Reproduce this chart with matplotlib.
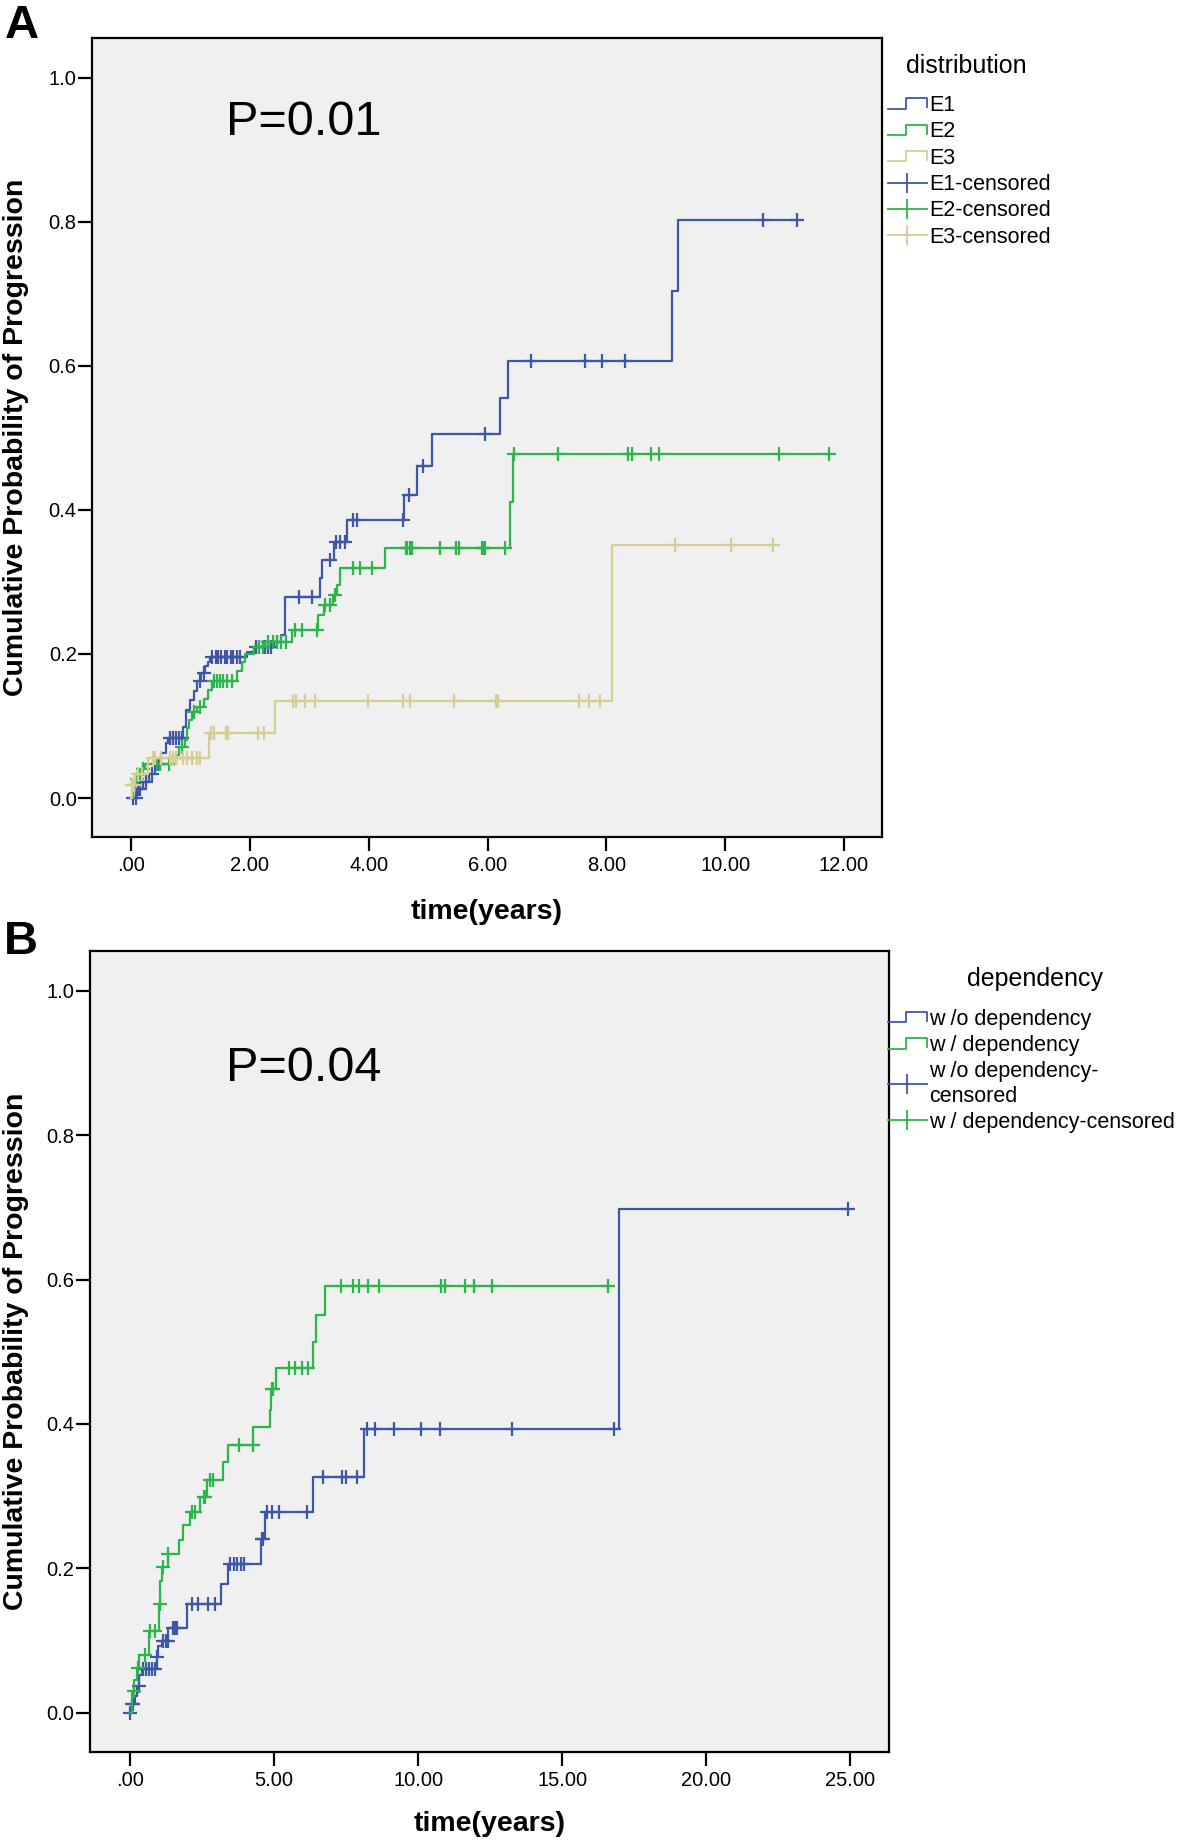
import numpy as np
import matplotlib.pyplot as plt
from matplotlib.lines import Line2D
from matplotlib.legend_handler import HandlerBase

plt.rcParams['font.family'] = ['Liberation Sans', 'DejaVu Sans']

blue = '#3D56A8'
green = '#2CB54A'
tan = '#D5CD93'
bg = '#F0F0F0'

# ---- panel A : distribution ----
e1_t = [0.10, 0.20, 0.30, 0.40, 0.50, 0.58, 0.62, 0.88, 0.92, 0.99, 1.05, 1.11, 1.17, 1.25, 1.29, 1.33,
        1.95, 2.06, 2.40, 2.52, 2.59, 3.18, 3.21, 3.41, 3.63, 4.60, 4.82, 5.07, 6.21, 6.35, 9.11, 9.20]
e1_p = [0.013, 0.022, 0.034, 0.048, 0.062, 0.076, 0.083, 0.099, 0.122, 0.136, 0.148, 0.162, 0.173, 0.183, 0.189, 0.196,
        0.203, 0.210, 0.217, 0.226, 0.279, 0.305, 0.330, 0.356, 0.386, 0.421, 0.461, 0.506, 0.556, 0.606, 0.704, 0.803]
e1_c = [0.03, 0.08, 0.12, 0.15, 0.25, 0.35, 0.45, 0.66, 0.70, 0.76, 0.80, 0.85, 1.15, 1.22, 1.36, 1.42, 1.46,
        1.52, 1.58, 1.62, 1.68, 1.72, 1.78, 1.84, 2.10, 2.15, 2.25, 2.30, 2.36, 2.45, 2.82, 3.04, 3.35, 3.44,
        3.52, 3.60, 3.74, 3.80, 4.58, 4.67, 4.92, 5.96, 6.73, 7.64, 7.92, 8.32, 10.63, 11.21]

e2_t = [0.03, 0.07, 0.15, 0.24, 0.76, 0.80, 0.91, 0.94, 0.98, 1.02, 1.10, 1.22, 1.30, 1.36, 1.78, 1.86, 1.92,
        2.06, 2.25, 2.70, 3.15, 3.24, 3.40, 3.46, 3.52, 4.28, 6.37, 6.43]
e2_p = [0.013, 0.027, 0.040, 0.048, 0.060, 0.071, 0.080, 0.097, 0.108, 0.120, 0.127, 0.138, 0.150, 0.162, 0.176,
        0.189, 0.200, 0.210, 0.217, 0.233, 0.254, 0.268, 0.282, 0.296, 0.319, 0.347, 0.411, 0.478]
e2_c = [0.10, 0.20, 0.43, 0.49, 0.63, 0.85, 1.05, 1.15, 1.39, 1.45, 1.50, 1.55, 1.62, 1.70, 2.15, 2.22, 2.30,
        2.38, 2.45, 2.52, 2.60, 2.76, 2.88, 3.12, 3.27, 3.35, 3.43, 3.74, 3.86, 4.05, 4.62, 4.65, 4.69, 4.72,
        5.20, 5.47, 5.52, 5.90, 5.93, 5.96, 6.30, 6.45, 7.18, 8.37, 8.43, 8.75, 8.89, 10.91, 11.75]

e3_t = [0.01, 0.07, 0.29, 1.31, 2.42, 8.10]
e3_p = [0.018, 0.034, 0.056, 0.090, 0.135, 0.351]
e3_c = [0.02, 0.05, 0.12, 0.18, 0.37, 0.40, 0.50, 0.66, 0.71, 0.76, 0.88, 0.94, 1.02, 1.11, 1.16, 1.34, 1.39,
        1.60, 1.63, 2.13, 2.23, 2.72, 2.78, 2.93, 3.09, 3.98, 4.58, 4.70, 5.43, 6.14, 6.17, 7.54, 7.70, 7.90,
        9.15, 10.10, 10.80]

# ---- panel B : dependency ----
wo_t = [0.05, 0.17, 0.25, 0.32, 0.40, 0.93, 0.98, 1.10, 1.33, 1.97, 3.16, 3.41, 4.55, 4.69, 6.34, 8.12, 16.96]
wo_p = [0.012, 0.023, 0.037, 0.053, 0.061, 0.077, 0.092, 0.100, 0.118, 0.150, 0.178, 0.206, 0.240, 0.278,
        0.326, 0.393, 0.697]
wo_c = [0.0, 0.05, 0.10, 0.30, 0.45, 0.55, 0.65, 0.75, 0.87, 0.93, 1.15, 1.25, 1.30, 1.48, 1.56, 1.64, 2.14,
        2.37, 2.72, 2.95, 3.47, 3.60, 3.72, 3.84, 3.96, 4.57, 4.63, 4.75, 4.92, 5.18, 6.13, 6.71, 7.37, 7.50,
        7.87, 8.22, 8.51, 9.17, 10.10, 10.76, 13.27, 16.81, 24.92]

w_t = [0.06, 0.15, 0.23, 0.32, 0.67, 1.00, 1.05, 1.10, 1.33, 1.68, 1.85, 2.08, 2.43, 2.68, 3.24, 3.39, 4.28,
       4.84, 4.89, 5.06, 6.36, 6.45, 6.76]
w_p = [0.030, 0.046, 0.062, 0.080, 0.113, 0.150, 0.183, 0.202, 0.220, 0.239, 0.260, 0.278, 0.299, 0.322,
       0.347, 0.371, 0.396, 0.420, 0.448, 0.478, 0.514, 0.551, 0.591]
w_c = [0.12, 0.29, 0.52, 0.69, 0.87, 1.04, 1.15, 1.33, 2.14, 2.26, 2.55, 2.60, 2.78, 2.89, 3.78, 4.26, 4.92,
       4.95, 5.50, 5.73, 5.96, 6.19, 7.33, 7.74, 7.94, 8.26, 8.64, 10.80, 10.93, 11.62, 11.94, 12.56, 16.59]


class StepHandler(HandlerBase):
    def create_artists(self, legend, orig_handle, xdescent, ydescent, width, height, fontsize, trans):
        x0, y0 = -xdescent, -ydescent
        xs = [x0, x0 + 0.45 * width, x0 + 0.45 * width, x0 + width, x0 + width]
        ys = [y0 + 0.15 * height, y0 + 0.15 * height, y0 + 0.85 * height, y0 + 0.85 * height, y0 + 0.25 * height]
        return [Line2D(xs, ys, color=orig_handle.get_color(), lw=1.3, transform=trans)]


def km(ax, t, p, cens, color):
    tt = np.r_[0, t, max(cens[-1], t[-1])]
    pp = np.r_[0, p, p[-1]]
    ax.step(tt, pp, where='post', color=color, lw=1.6)
    idx = np.searchsorted(tt, cens, side='right') - 1
    ax.plot(cens, pp[idx], ls='none', marker='+', ms=10, mew=1.6, color=color)


def style(ax, xt, xl, xlim):
    ax.set_facecolor(bg)
    for s in ax.spines.values():
        s.set_linewidth(1.6)
    ax.set_xlim(*xlim)
    ax.set_ylim(-0.054, 1.055)
    ax.set_xticks(xt)
    ax.set_xticklabels(xl)
    ax.set_yticks([0, 0.2, 0.4, 0.6, 0.8, 1.0])
    ax.set_yticklabels(['0.0', '0.2', '0.4', '0.6', '0.8', '1.0'])
    ax.tick_params(direction='out', length=10, width=1.6, labelsize=14.5, pad=1)
    ax.tick_params(axis='x', pad=4)
    ax.set_xlabel('time(years)', fontsize=20.5, fontweight='bold')
    ax.set_ylabel('Cumulative Probability of Progression', fontsize=20.5, fontweight='bold')


fig = plt.figure(figsize=(11.81, 18.44), dpi=100)
axA = fig.add_axes([0.0779, 0.5461, 0.6689, 0.4333])
axB = fig.add_axes([0.0758, 0.0500, 0.6770, 0.4343])

km(axA, e1_t, e1_p, e1_c, blue)
km(axA, e2_t, e2_p, e2_c, green)
km(axA, e3_t, e3_p, e3_c, tan)
style(axA, [0, 2, 4, 6, 8, 10, 12], ['.00', '2.00', '4.00', '6.00', '8.00', '10.00', '12.00'], (-0.66, 12.64))
axA.xaxis.set_label_coords(0.5, -0.077)
axA.yaxis.set_label_coords(-0.08, 0.5)
axA.text(0.17, 0.894, 'P=0.01', transform=axA.transAxes, fontsize=35, va='center')

km(axB, wo_t, wo_p, wo_c, blue)
km(axB, w_t, w_p, w_c, green)
style(axB, [0, 5, 10, 15, 20, 25], ['.00', '5.00', '10.00', '15.00', '20.00', '25.00'], (-1.41, 26.35))
axB.xaxis.set_label_coords(0.5, -0.074)
axB.yaxis.set_label_coords(-0.076, 0.5)
axB.text(0.171, 0.853, 'P=0.04', transform=axB.transAxes, fontsize=35, va='center')

# legends (titles drawn separately so the gap to the entries can match)
leg_kw = dict(loc='upper left', bbox_transform=fig.transFigure, frameon=False, borderpad=0,
              borderaxespad=0, fontsize=15.5, numpoints=1, handlelength=1.8,
              handletextpad=0.1, labelspacing=0.25)

sA = [Line2D([], [], color=c) for c in (blue, green, tan)]
cA = [Line2D([], [], color=c, marker='|', ms=14, mew=1.3, lw=1.3) for c in (blue, green, tan)]
axA.legend(sA + cA, ['E1', 'E2', 'E3', 'E1-censored', 'E2-censored', 'E3-censored'],
           bbox_to_anchor=(0.752, 0.9485),
           handler_map={h: StepHandler() for h in sA}, **leg_kw)
fig.text(906 / 1181, 1 - 66 / 1844, 'distribution', fontsize=18, ha='left', va='center')

sB = [Line2D([], [], color=c) for c in (blue, green)]
cB = [Line2D([], [], color=c, marker='|', ms=14, mew=1.3, lw=1.3) for c in (blue, green)]
axB.legend(sB + cB, ['w /o dependency', 'w / dependency', 'w /o dependency-\ncensored',
                     'w / dependency-censored'],
           bbox_to_anchor=(0.752, 0.453),
           handler_map={h: StepHandler() for h in sB}, **leg_kw)
fig.text(1035 / 1181, 1 - 979 / 1844, 'dependency', fontsize=18, ha='center', va='center')

fig.text(0.004, 0.998, 'A', fontsize=34, fontweight='bold', va='top')
fig.text(0.003, 0.501, 'B', fontsize=34, fontweight='bold', va='top')

fig.savefig('out.png', dpi=100)
